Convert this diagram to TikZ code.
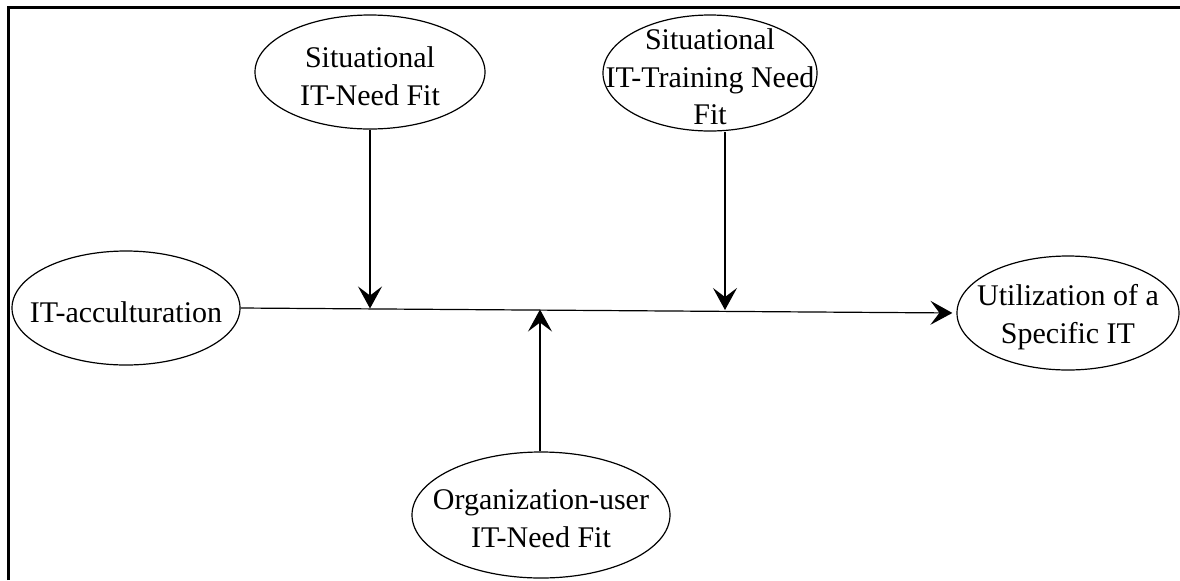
\documentclass[tikz,border=0pt]{standalone}
\usepackage{fontspec}
\setmainfont{Liberation Serif}
\usetikzlibrary{arrows.meta,shapes.geometric}

\tikzset{
  var/.style={ellipse,draw,line width=0.6pt,inner sep=0pt},
  txt/.style={align=center,font=\fontsize{15}{18.8}\selectfont,yshift=-2pt},
  arr/.style={-{Stealth[length=11pt,width=12pt,inset=4.5pt]},line width=0.6pt}
}

\begin{document}
\begin{tikzpicture}[x=0.5pt,y=-0.5pt]
  \useasboundingbox (0,0) rectangle (1180,580);
  \draw[line width=1.5pt] (8,580) -- (8,7) -- (1180,7);

  \node[var,minimum width=115pt,minimum height=57pt,
        label={[txt]center:{Situational\\IT-Need Fit}}] (sitneed) at (370,72) {};
  \node[var,minimum width=107pt,minimum height=58pt,
        label={[txt]center:{Situational\\IT-Training Need\\Fit}}] (sittrain) at (710,73) {};
  \node[var,minimum width=114pt,minimum height=57pt,
        label={[txt]center:{IT-acculturation}}] (accult) at (126,308) {};
  \node[var,minimum width=111pt,minimum height=57pt,
        label={[txt]center:{Utilization of a\\Specific IT}}] (util) at (1068,313) {};
  \node[var,minimum width=129pt,minimum height=63pt,
        label={[txt]center:{Organization-user\\IT-Need Fit}}] (orguser) at (541,515) {};

  \coordinate (m1) at (370,308.5);
  \coordinate (m2) at (725,310);
  \coordinate (m3) at (540,309.5);

  \draw[arr,shorten >=2pt] (accult.east) -- (util.west);
  \draw[arr] (sitneed.south) -- (m1);
  \draw[arr] (m2 |- sittrain.south) -- (m2);
  \draw[arr] (m3 |- orguser.north) -- (m3);
\end{tikzpicture}
\end{document}
